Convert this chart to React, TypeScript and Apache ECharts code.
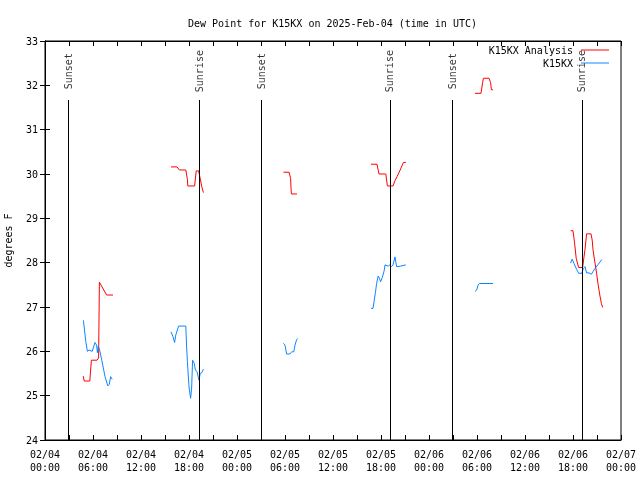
import React, { useEffect, useRef } from "react";
import * as echarts from "echarts";

// hours since 2025-02-04 00:00 UTC; null separates gaps
const analysisTimes = [
  4.79, 4.9, 5.6, 5.7, 5.8, 6.5, 6.7, 6.8, 7.7, 8.5, 9.0,
  15.75, 16.5, 16.8, 17.6, 17.8, 17.85, 18.7, 18.9, 19.2, 19.4, 19.6, 19.8, 20.5,
  29.8, 30.5, 30.7, 30.75, 30.8, 31.5, 32.0,
  40.75, 41.5, 41.75, 42.6, 42.8, 43.5, 43.75, 44.0, 44.4, 44.8, 45.1, 45.6,
  53.75, 54.5, 54.7, 54.8, 55.5, 55.7, 55.8, 56.0, 56.5,
  65.7, 66.0, 66.2, 66.4, 66.7, 67.2, 67.5, 67.7, 68.25, 68.4, 68.5, 68.75, 68.95, 69.15, 69.35, 69.55, 69.7,
];
const analysisValues = [
  25.44, 25.33, 25.33, 25.58, 25.8, 25.8, 25.85, 27.56, 27.27, 27.27, null,
  30.16, 30.16, 30.09, 30.09, 29.88, 29.73, 29.73, 30.07, 30.07, 29.9, 29.71, 29.58, null,
  30.04, 30.04, 29.9, 29.68, 29.55, 29.55, null,
  30.22, 30.22, 30.0, 30.0, 29.73, 29.73, 29.85, 29.94, 30.09, 30.26, 30.26, null,
  31.82, 31.82, 32.06, 32.16, 32.16, 32.06, 31.9, 31.9, null,
  28.72, 28.72, 28.44, 28.1, 27.89, 27.89, 28.3, 28.65, 28.65, 28.51, 28.29, 27.99, 27.76, 27.5, 27.27, 27.08, 26.99,
];

const stationTimes = [
  4.8, 5.1, 5.3, 5.5, 5.9, 6.25, 6.45, 6.55, 6.65, 6.8, 7.1, 7.5, 7.85, 8.05, 8.2, 8.4, 9.0,
  15.75, 16.0, 16.2, 16.35, 16.7, 17.6, 17.7, 17.8, 18.0, 18.2, 18.33, 18.45, 18.65, 18.8, 19.0, 19.25, 19.4, 19.6, 19.8, 20.5,
  29.8, 30.0, 30.2, 30.6, 30.85, 31.1, 31.25, 31.45, 31.6, 32.0,
  40.75, 41.0, 41.3, 41.45, 41.65, 41.8, 41.95, 42.15, 42.4, 42.5, 42.9, 43.1, 43.3, 43.5, 43.75, 43.95, 44.4, 45.1, 45.6,
  53.75, 53.95, 54.15, 54.3, 56.0, 56.5,
  65.7, 65.9, 66.1, 66.45, 66.7, 67.1, 67.3, 67.5, 67.7, 68.0, 68.3, 68.5, 68.75, 69.15, 69.6,
];
const stationValues = [
  26.7, 26.22, 26.0, 26.03, 26.0, 26.2, 26.14, 25.97, 26.12, 26.05, 25.8, 25.43, 25.22, 25.26, 25.43, 25.37, null,
  26.44, 26.33, 26.2, 26.37, 26.57, 26.57, 26.1, 25.77, 25.2, 24.94, 25.17, 25.8, 25.73, 25.58, 25.54, 25.35, 25.5, 25.52, 25.6, null,
  26.18, 26.14, 25.94, 25.94, 25.99, 25.99, 26.14, 26.26, 26.29, null,
  26.97, 26.97, 27.32, 27.53, 27.7, 27.65, 27.57, 27.66, 27.82, 27.95, 27.92, 27.95, 27.91, 27.95, 28.13, 27.91, 27.92, 27.95, null,
  27.35, 27.38, 27.5, 27.53, 27.53, null,
  27.99, 28.08, 27.99, 27.85, 27.76, 27.76, 27.87, 27.91, 27.77, 27.77, 27.74, 27.8, 27.87, 27.96, 28.07,
];

const eventNames = ["Sunset", "Sunrise", "Sunset", "Sunrise", "Sunset", "Sunrise"];
const eventTimes = [2.9, 19.25, 27.0, 43.12, 50.9, 67.12];
const eventLineTop = 31.67;
const eventLabelY = 32.32;

const yTicks = ["24", "25", "26", "27", "28", "29", "30", "31", "32", "33"];

const FONT = "DejaVu Sans Mono";
const LINE_ICON = "path://M0,0 L28,0 L28,1 L0,1 Z";

function pad(n: number) {
  return n < 10 ? "0" + n : "" + n;
}

export default function App() {
  const ref = useRef<HTMLDivElement>(null);
  useEffect(() => {
    const chart = echarts.init(ref.current!, null, { renderer: "svg" });
    const analysisData = analysisTimes.map((t, i) => [t, analysisValues[i] === null ? "-" : analysisValues[i]]);
    const stationData = stationTimes.map((t, i) => [t, stationValues[i] === null ? "-" : stationValues[i]]);
    const tickStyle = { show: true, inside: true, length: 5, lineStyle: { color: "#000", width: 1 } };
    chart.setOption({
      animation: false,
      textStyle: { fontFamily: FONT, fontSize: 10, color: "#000" },
      title: {
        text: "Dew Point for K15KX on 2025-Feb-04 (time in UTC)",
        left: 183,
        top: 13,
        textStyle: { fontFamily: FONT, fontSize: 10, fontWeight: "normal", color: "#000" },
      },
      legend: {
        data: [
          { name: "K15KX Analysis", icon: LINE_ICON },
          { name: "K15KX", icon: LINE_ICON },
        ],
        orient: "vertical",
        align: "right",
        right: 26,
        top: 40,
        itemWidth: 28,
        itemHeight: 10,
        itemGap: 3,
        symbolKeepAspect: true,
        textStyle: { fontFamily: FONT, fontSize: 10, color: "#000", padding: [0, 3, 0, 0] },
      },
      grid: {
        left: 45,
        right: 19,
        top: 41,
        bottom: 40,
        outerBoundsMode: "none",
        containLabel: false,
        show: true,
        borderColor: "#000",
        borderWidth: 1,
      },
      xAxis: [
        {
          type: "value",
          min: 0,
          max: 72,
          interval: 3,
          position: "bottom",
          axisLine: { show: true, lineStyle: { color: "#000" } },
          axisTick: tickStyle,
          splitLine: { show: false },
          axisLabel: {
            fontFamily: FONT,
            fontSize: 10,
            color: "#000",
            lineHeight: 13,
            margin: 8,
            formatter: (v: number) => {
              if (v % 6 !== 0) return "";
              const day = 4 + Math.floor(v / 24);
              return `02/${pad(day)}\n${pad(v % 24)}:00`;
            },
          },
        },
        {
          type: "value",
          min: 0,
          max: 72,
          interval: 3,
          position: "top",
          axisLine: { show: true, lineStyle: { color: "#000" } },
          axisTick: tickStyle,
          splitLine: { show: false },
          axisLabel: { show: false },
        },
      ],
      yAxis: [
        {
          type: "value",
          min: 24,
          max: 33,
          interval: 1,
          position: "left",
          name: "degrees F",
          nameLocation: "middle",
          nameGap: 32,
          nameRotate: 90,
          nameTextStyle: { fontFamily: FONT, fontSize: 10, color: "#000" },
          axisLine: { show: true, lineStyle: { color: "#000" } },
          axisTick: tickStyle,
          splitLine: { show: false },
          axisLabel: {
            fontFamily: FONT,
            fontSize: 10,
            color: "#000",
            margin: 7,
            formatter: (v: number) => yTicks[Math.round(v - 24)] ?? "",
          },
        },
        {
          type: "value",
          min: 24,
          max: 33,
          interval: 1,
          position: "right",
          axisLine: { show: true, lineStyle: { color: "#000" } },
          axisTick: tickStyle,
          splitLine: { show: false },
          axisLabel: { show: false },
        },
      ],
      series: [
        {
          name: "K15KX Analysis",
          type: "line",
          data: analysisData,
          symbol: "none",
          connectNulls: false,
          lineStyle: { color: "#ff0000", width: 1 },
          itemStyle: { color: "#ff0000" },
        },
        {
          name: "K15KX",
          type: "line",
          data: stationData,
          symbol: "none",
          connectNulls: false,
          lineStyle: { color: "#0c86ff", width: 1 },
          itemStyle: { color: "#0c86ff" },
        },
        {
          name: "events",
          type: "scatter",
          symbolSize: 0,
          silent: true,
          data: eventTimes.map((t, i) => ({ value: [t, eventLabelY], name: eventNames[i] })),
          label: {
            show: true,
            position: "inside",
            rotate: 90,
            formatter: "{b}",
            fontFamily: FONT,
            fontSize: 10,
            color: "#000",
          },
          markLine: {
            silent: true,
            symbol: "none",
            label: { show: false },
            lineStyle: { color: "#000", width: 1, type: "solid" },
            data: eventTimes.map((t) => [{ coord: [t, 24] }, { coord: [t, eventLineTop] }]),
          },
        },
      ],
    });
    return () => chart.dispose();
  }, []);
  return <div ref={ref} style={{ position: "fixed", left: 0, top: 0, width: 640, height: 480 }} />;
}
